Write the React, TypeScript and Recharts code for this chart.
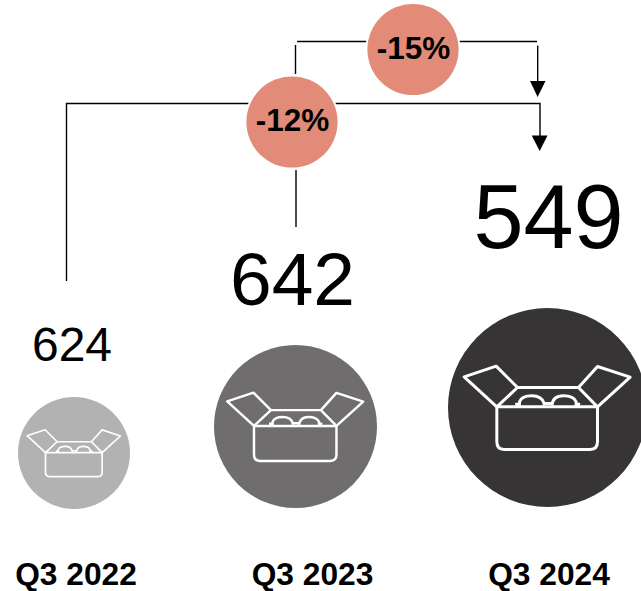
import { ScatterChart, Scatter, XAxis, YAxis, ZAxis } from 'recharts';

// Shipments per quarter
const quarters = ['Q3 2022', 'Q3 2023', 'Q3 2024'];
const shipments = [624, 642, 549];
const bubbleWeights = [100, 212, 316];
const changeLabels = ['-12%', '-15%'];

const rows = quarters.map((quarter, i) => ({
  quarter,
  shipments: shipments[i],
  weight: bubbleWeights[i],
  baseline: 0,
  slot: i,
}));

const FONT = '"Liberation Sans", Arial, sans-serif';
const BUBBLE_FILLS = ['#b2b2b2', '#6f6d6e', '#373435'];
const CHANGE_FILL = '#e28b78';

// Per-quarter tweaks for the bubble and its number
const BUBBLE_DX = [-2, -17, -1.5];
const BUBBLE_DY = [1, 0, -1];
const VALUE_SIZES = [48, 75, 90];
const VALUE_DX = [-4, -20, -0.5];
const VALUE_GAP = [36, 40, 60];

// Open box with glasses, drawn on a 298.5 radius around 0,0
const ICON_UNIT = 298.5;
const BOX_PATHS = [
  'M-152 -2H150V103Q150 126 128 126H-130Q-152 126 -152 103Z',
  'M-152 -2L-90 -60H93L150 -2',
  'M-152 -2L-250 -92L-154 -124L-90 -60',
  'M150 -2L248 -91L150 -123L93 -60',
  'M-84 -4V-17Q-77 -35 -47 -35Q-17 -35 -10 -12V-6',
  'M13 -6Q16 -35 48 -35Q78 -35 86 -17V-4',
  'M-10 -12H13M-97 -10H-84M86 -10H98',
];

function Bubble(props: any) {
  const { cx, cy, width, payload } = props;
  const i = payload.slot;
  const r = width / 2;
  const x = cx + BUBBLE_DX[i];
  const y = cy + BUBBLE_DY[i] - r;
  return (
    <g>
      <circle cx={x} cy={y} r={r} fill={BUBBLE_FILLS[i]} />
      <g transform={`translate(${x} ${y}) scale(${r / ICON_UNIT})`}>
        {BOX_PATHS.map((d) => (
          <path key={d} d={d} fill="none" stroke="#fff" strokeWidth={9} strokeLinejoin="round" />
        ))}
      </g>
      <text
        x={cx + VALUE_DX[i]}
        y={y - r - VALUE_GAP[i]}
        textAnchor="middle"
        fontFamily={FONT}
        fontSize={VALUE_SIZES[i]}
        fill="#000"
      >
        {payload.shipments}
      </text>
    </g>
  );
}

function ChangeBadge({ cx, cy, label }: { cx: number; cy: number; label: string }) {
  return (
    <g>
      <circle cx={cx} cy={cy} r={47.5} fill="#fff" />
      <circle cx={cx} cy={cy} r={45.6} fill={CHANGE_FILL} />
      <text x={cx + 0.5} y={cy + 9} textAnchor="middle" fontFamily={FONT} fontWeight="bold" fontSize={31.5} fill="#000">
        {label}
      </text>
    </g>
  );
}

// Brackets from each earlier quarter over to Q3 2024
function Brackets() {
  const line = { fill: 'none', stroke: '#000', strokeWidth: 1.4 };
  return (
    <g>
      <path d="M66.5 281V103.5H540V136" {...line} />
      <path d="M531.7 135.5H547.5L539.7 151Z" fill="#000" />
      <path d="M295.5 74V45M297 41.5H537M537.7 45.5V82M296 170V227" {...line} />
      <path d="M530 81H545.5L537.6 97Z" fill="#000" />
      <ChangeBadge cx={292} cy={122} label={changeLabels[0]} />
      <ChangeBadge cx={413} cy={49.5} label={changeLabels[1]} />
    </g>
  );
}

export default function App() {
  return (
    <div style={{ position: 'absolute', left: 0, top: 0, width: 641, height: 591 }}>
      <ScatterChart width={641} height={591} margin={{ top: 0, right: 92, bottom: 0, left: 76 }}>
        <XAxis
          type="category"
          dataKey="quarter"
          scale="point"
          height={83}
          interval={0}
          axisLine={false}
          tickLine={false}
          tickMargin={48}
          allowDuplicatedCategory={false}
          tick={{ fill: '#000', fontFamily: FONT, fontWeight: 'bold', fontSize: 31.7 }}
        />
        <YAxis type="number" dataKey="baseline" domain={[0, 1]} hide />
        <ZAxis
          type="number"
          dataKey="weight"
          domain={[100, 316]}
          range={[Math.PI * 56 * 56, Math.PI * 99.5 * 99.5]}
        />
        <Scatter data={rows} isAnimationActive={false} shape={Bubble} />
        <Brackets />
      </ScatterChart>
    </div>
  );
}
